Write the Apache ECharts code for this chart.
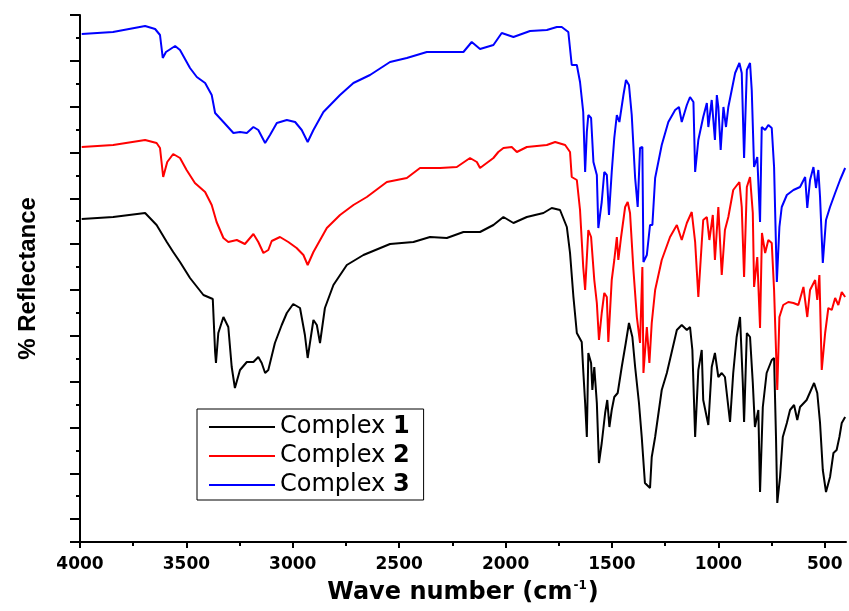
<!DOCTYPE html>
<html>
<head>
<meta charset="utf-8">
<script src="https://cdn.jsdelivr.net/npm/echarts@6/dist/echarts.min.js"></script>
<style>
  html, body { margin: 0; padding: 0; background: #fff; }
  #chart { width: 849px; height: 611px; }
</style>
</head>
<body>
<div id="chart"></div>
<script>
// series names / colours
const names = ['Complex 1', 'Complex 2', 'Complex 3'];
const colors = ['#000000', '#ff0000', '#0000ff'];

// x axis ticks (wave number, cm-1)
const xTicks = [4000, 3500, 3000, 2500, 2000, 1500, 1000, 500];
const xMinorTicks = [3750, 3250, 2750, 2250, 1750, 1250, 750];

// y axis: arbitrary reflectance units, 23 tick steps, no labels
const yMax = 527;
const ySteps = 23;

// Complex 1 (black)
const wave1 = [3992,3844,3694,3640,3592,3562,3530,3483,3420,3376,3365,3361,3350,3326,3303,3287,3272,3248,3216,3185,3162,3146,3130,3115,3084,3052,3028,2998,2966,2943,2930,2903,2887,2872,2849,2809,2746,2668,2543,2433,2355,2276,2198,2120,2057,2010,1963,1900,1822,1783,1744,1712,1697,1681,1665,1642,1635,1626,1618,1611,1598,1592,1583,1571,1561,1548,1532,1522,1512,1501,1489,1473,1454,1435,1420,1404,1391,1373,1360,1345,1321,1313,1297,1266,1242,1219,1195,1172,1148,1133,1122,1109,1094,1078,1071,1047,1031,1016,1000,984,969,945,930,914,898,885,879,866,851,838,828,812,804,791,773,749,738,729,723,710,697,678,663,644,629,616,585,550,535,522,509,494,475,459,444,431,420,404];
const refl1 = [323,325,329,317,300,290,280,264,247,243,190,179,209,225,215,175,154,172,180,180,185,179,169,172,199,217,229,238,234,207,184,222,217,199,234,257,277,287,298,300,305,304,310,310,317,325,319,325,329,334,332,315,289,245,209,200,172,139,105,189,179,152,175,139,79,99,129,142,115,132,145,149,175,199,219,205,175,139,105,59,54,85,105,152,169,190,212,217,212,215,192,105,172,192,142,117,175,189,165,169,165,120,169,205,225,159,120,209,205,159,115,132,50,135,169,182,184,105,39,65,105,119,132,137,122,135,142,159,149,119,72,50,65,89,92,105,119,125];

// Complex 2 (red)
const wave2 = [3992,3844,3694,3640,3624,3609,3590,3562,3530,3499,3460,3412,3381,3358,3326,3303,3263,3225,3185,3162,3138,3115,3099,3060,3021,2982,2950,2930,2903,2840,2778,2715,2652,2558,2464,2402,2308,2229,2167,2135,2120,2057,2034,2010,1971,1947,1900,1806,1767,1720,1697,1689,1665,1650,1635,1626,1611,1598,1583,1571,1561,1548,1536,1524,1517,1501,1489,1477,1470,1457,1438,1426,1415,1399,1383,1368,1357,1352,1336,1324,1313,1297,1266,1227,1195,1172,1148,1125,1109,1094,1078,1071,1054,1042,1026,1016,1000,984,969,953,930,901,890,879,866,851,838,832,817,804,795,780,765,749,738,723,713,695,671,647,624,600,582,569,545,535,525,514,498,483,467,451,436,420,404];
const refl2 = [395,397,402,399,394,365,380,388,384,372,359,350,337,320,304,300,302,298,308,300,289,292,301,305,300,294,287,277,290,314,327,337,345,360,364,374,374,375,384,380,374,384,390,394,395,390,395,397,400,397,390,365,362,332,275,252,312,305,262,239,202,229,249,245,200,262,282,305,282,305,335,340,329,272,225,199,275,169,215,179,219,252,282,305,317,302,319,330,300,245,299,322,325,302,327,282,335,267,312,325,352,360,335,265,355,365,329,255,285,214,309,289,302,299,252,152,225,237,240,239,237,255,225,252,262,242,267,172,209,234,232,244,237,250,245];

// Complex 3 (blue)
const wave3 = [3992,3845,3694,3647,3624,3611,3596,3553,3530,3483,3451,3412,3381,3365,3326,3279,3248,3216,3185,3162,3130,3107,3075,3028,2989,2958,2930,2903,2856,2778,2715,2637,2543,2464,2370,2276,2198,2159,2120,2057,2018,1963,1885,1806,1759,1736,1705,1689,1665,1650,1635,1626,1618,1611,1598,1587,1571,1564,1548,1536,1524,1514,1501,1489,1477,1465,1446,1434,1420,1407,1391,1379,1368,1357,1352,1336,1321,1310,1297,1266,1235,1203,1185,1172,1148,1133,1117,1109,1094,1071,1054,1047,1031,1016,1007,1000,989,976,964,953,937,921,901,890,879,866,851,843,832,817,804,796,780,765,749,738,725,713,702,678,647,616,592,582,569,553,541,530,522,509,494,475,451,428,404];
const refl3 = [508,510,516,513,507,484,490,496,492,474,465,459,447,429,420,409,410,409,415,412,399,407,419,422,420,412,400,412,430,447,459,467,480,484,490,490,490,500,493,497,509,505,511,512,515,515,510,477,477,460,430,370,410,427,424,380,367,314,340,370,367,327,370,404,427,420,447,462,457,427,364,335,394,395,280,287,317,317,364,397,420,432,435,420,437,445,440,370,402,425,439,415,442,402,447,435,392,435,415,435,452,469,479,469,384,472,479,452,375,385,320,415,412,417,414,375,260,315,335,347,352,355,365,334,362,375,354,372,345,279,322,335,349,362,374];

const waves = [wave1, wave2, wave3];
const refls = [refl1, refl2, refl3];

const chart = echarts.init(document.getElementById('chart'));

const yStep = yMax / ySteps;
const tickStyle = { color: '#000', width: 2 };

let series = [];
for (let s = 0; s < names.length; s++) {
  series.push({
    name: names[s],
    type: 'line',
    xAxisIndex: 0,
    yAxisIndex: 0,
    data: waves[s].map((w, i) => [w, refls[s][i]]),
    symbol: 'none',
    showSymbol: false,
    lineStyle: { color: colors[s], width: 2 },
    itemStyle: { color: colors[s] }
  });
}

const option = {
  animation: false,
  backgroundColor: '#fff',
  grid: { left: 80, right: 3, top: 15, bottom: 69, containLabel: false },
  legend: {
    data: names,
    orient: 'vertical',
    left: 197,
    top: 409,
    icon: 'rect',
    itemWidth: 66,
    itemHeight: 2,
    itemGap: 3,
    padding: [5, 14, 2, 12],
    borderColor: '#000',
    borderWidth: 1,
    textStyle: {
      fontFamily: 'DejaVu Sans',
      fontSize: 24,
      lineHeight: 26,
      color: '#000',
      rich: {
        n: { fontFamily: 'DejaVu Sans', fontSize: 24, fontWeight: 'bold', color: '#000' }
      }
    },
    formatter: function (name) {
      const parts = name.split(' ');
      return parts[0] + ' {n|' + parts[1] + '}';
    }
  },
  xAxis: [{
    type: 'value',
    min: 400,
    max: 4000,
    inverse: true,
    position: 'bottom',
    name: '{a|Wave number (cm}{s|-1}{a|)}',
    nameLocation: 'middle',
    nameGap: 38,
    nameTextStyle: {
      rich: {
        a: { fontFamily: 'DejaVu Sans', fontWeight: 'bold', fontSize: 24, color: '#000' },
        s: { fontFamily: 'DejaVu Sans', fontWeight: 'bold', fontSize: 12, color: '#000', padding: [0, 1, 14, 1] }
      }
    },
    axisLine: { show: true, onZero: false, lineStyle: tickStyle },
    axisTick: { show: true, customValues: xTicks, length: 6, lineStyle: tickStyle },
    axisLabel: {
      customValues: xTicks,
      formatter: function (v) { return String(v); },
      margin: 14,
      fontFamily: 'DejaVu Sans',
      fontWeight: 'bold',
      fontSize: 17,
      color: '#000'
    },
    splitLine: { show: false }
  }, {
    type: 'value',
    min: 400,
    max: 4000,
    inverse: true,
    position: 'bottom',
    axisLine: { show: false, onZero: false },
    axisTick: { show: true, customValues: xMinorTicks, length: 4, lineStyle: tickStyle },
    axisLabel: { show: false },
    splitLine: { show: false }
  }],
  yAxis: [{
    type: 'value',
    min: 0,
    max: yMax,
    interval: yStep,
    position: 'left',
    name: '% Reflectance',
    nameLocation: 'middle',
    nameGap: 40,
    nameTextStyle: { fontFamily: 'Liberation Sans', fontWeight: 'bold', fontSize: 24, color: '#000' },
    axisLine: { show: true, onZero: false, lineStyle: tickStyle },
    axisTick: { show: true, length: 4, lineStyle: tickStyle },
    axisLabel: { show: false },
    splitLine: { show: false }
  }, {
    // long ticks, counted from the top
    type: 'value',
    min: 0,
    max: yMax,
    interval: yStep * 2,
    inverse: true,
    position: 'left',
    axisLine: { show: false, onZero: false },
    axisTick: { show: true, length: 10, lineStyle: tickStyle },
    axisLabel: { show: false },
    splitLine: { show: false }
  }],
  series: series
};

chart.setOption(option);
</script>
</body>
</html>
